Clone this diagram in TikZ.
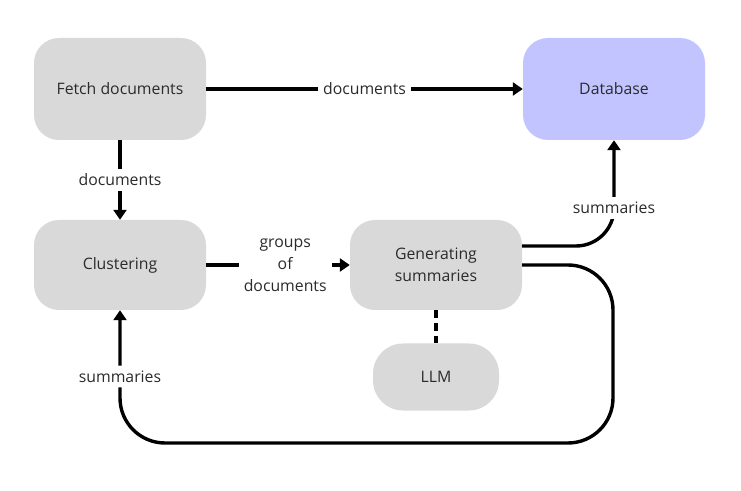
\documentclass[tikz,border=0pt]{standalone}
\usepackage{fontspec}
\setmainfont{Open Sans}
\usetikzlibrary{arrows.meta}
\definecolor{boxgray}{HTML}{D9D9D9}
\definecolor{dbblue}{HTML}{C1C4FF}
\definecolor{txtgray}{HTML}{2B2B2B}
\tikzset{
  box/.style={fill=boxgray, rounded corners=25pt, minimum width=172pt, minimum height=90pt,
    align=center, text=txtgray, font=\fontsize{15.8}{22}\selectfont},
  flow/.style={line width=3.4pt, -{Triangle[length=10pt,width=13pt]}},
  lbl/.style={fill=white, text=txtgray, align=center, inner sep=5pt,
    font=\fontsize{15.8}{22}\selectfont}
}
\begin{document}
\begin{tikzpicture}[x=1pt,y=1pt]
  \useasboundingbox (0,0) rectangle (741,490);

  % boxes
  \node[box, minimum height=102pt] (fetch) at (120,401) {Fetch documents};
  \node[box, minimum width=182pt, minimum height=102pt, fill=dbblue] (db) at (614,401) {Database};
  \node[box] (clu) at (120,225) {Clustering};
  \node[box] (gen) at (436,225) {Generating\\summaries};
  \node[box, minimum width=126pt, minimum height=67pt, rounded corners=30pt] (llm) at (436,113) {LLM};

  % connectors
  \draw[flow] (fetch) -- node[lbl]{documents} (db);
  \draw[flow] (fetch) -- node[lbl]{documents} (clu);
  \draw[flow] (clu) -- node[lbl, pos=0.55]{groups\\of\\documents} (gen);
  \draw[flow, rounded corners=38pt] ([yshift=19pt]gen.east) -| node[lbl, pos=0.68]{summaries} (db);
  \draw[flow, rounded corners=45pt] (gen.east) -- (613,225) -- (613,47) -- (120,47)
    -- node[lbl]{summaries} (clu);
  \draw[line width=3.4pt, dash pattern=on 8pt off 5pt] (gen) -- (llm);
\end{tikzpicture}
\end{document}
